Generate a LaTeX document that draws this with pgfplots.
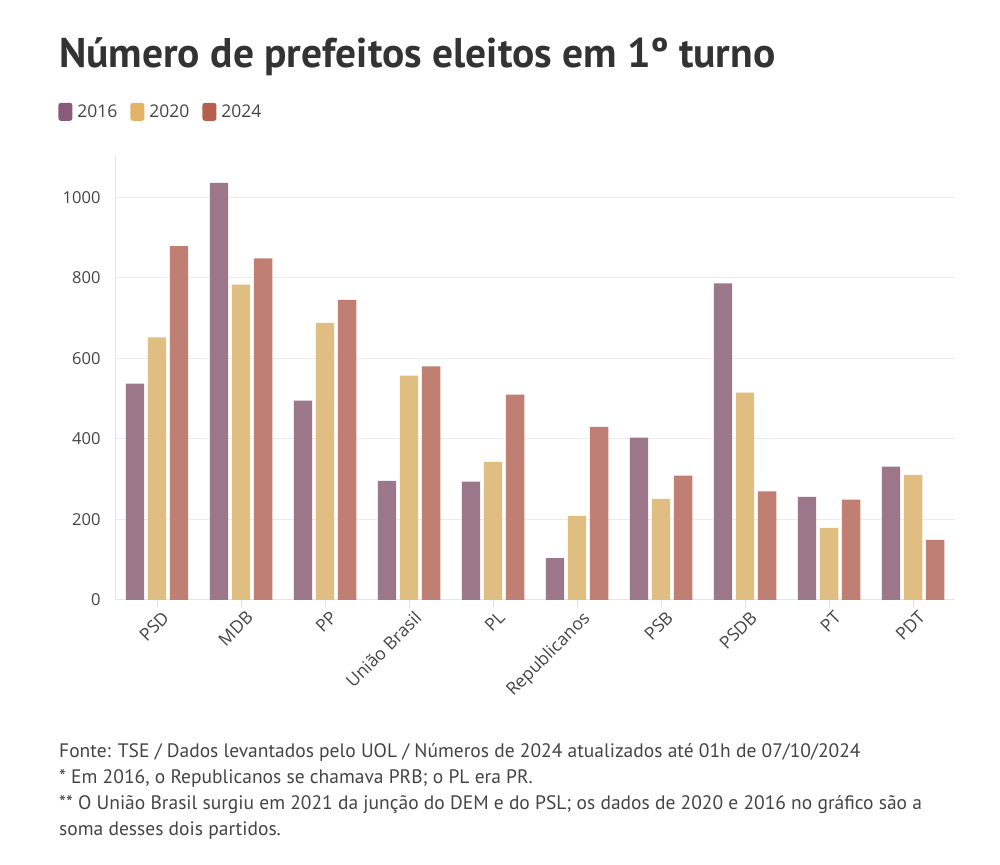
\documentclass[border=0pt]{standalone}
\usepackage{fontspec}
\setmainfont{Open Sans}
\newfontfamily\ptsans{PT Sans}
\usepackage{pgfplots}
\pgfplotsset{compat=1.18}
\definecolor{c16}{HTML}{9B7789}
\definecolor{c20}{HTML}{E0BD80}
\definecolor{c24}{HTML}{BF7F73}
\definecolor{l16}{HTML}{8A5A7A}
\definecolor{l20}{HTML}{E3B466}
\definecolor{l24}{HTML}{B5604F}
\definecolor{txt}{HTML}{333333}
\definecolor{tk}{HTML}{444444}
\begin{document}
\begin{tikzpicture}[x=1pt,y=1pt]
\useasboundingbox (0,0) rectangle (1000,864);
\node[anchor=base west, inner sep=0pt, text=txt, font=\ptsans\bfseries\fontsize{41.5}{44}\selectfont] at (59,864-68) {Número de prefeitos eleitos em 1º turno};
\begin{axis}[
  at={(115pt,264pt)}, anchor=south west, scale only axis,
  width=840pt, height=445pt,
  xmin=-0.5, xmax=9.5, ymin=0, ymax=1105,
  ytick={0,200,400,600,800,1000},
  xtick={0,1,2,3,4,5,6,7,8,9},
  xticklabels={PSD,MDB,PP,União Brasil,PL,Republicanos,PSB,PSDB,PT,PDT},
  axis x line*=bottom, axis y line*=left,
  axis line style={draw=black!10, line width=1pt},
  ymajorgrids, grid style={draw=black!8, line width=1pt},
  tick align=outside, major tick length=7pt,
  xtick style={draw=black!12, line width=1pt},
  ytick style={draw=none},
  ticklabel style={text=tk, font=\fontsize{16.5}{20}\selectfont},
  yticklabel style={xshift=-4pt},
  xticklabel style={rotate=45, anchor=north east, inner sep=2pt, font=\fontsize{17.5}{20}\selectfont, xshift=3pt, yshift=-3pt},
  scaled y ticks=false,
  /pgf/number format/assume math mode=true,
  /pgf/number format/1000 sep={},
  ybar, bar width=0.22,
  legend style={draw=none, fill=none, at={(-0.0676,1.097)}, anchor=west,
    legend columns=3, font=\fontsize{17.5}{20}\selectfont, text=tk,
    /tikz/every odd column/.append style={column sep=3pt},
    /tikz/every even column/.append style={column sep=11pt},
    legend cell align=left, inner sep=0pt},
  legend image code/.code={\fill[#1, draw=none, rounded corners=2.5pt] (0pt,-9pt) rectangle (14pt,9pt);},
]
\addlegendimage{fill=l16, draw=none}\addlegendentry{2016}
\addlegendimage{fill=l20, draw=none}\addlegendentry{2020}
\addlegendimage{fill=l24, draw=none}\addlegendentry{2024}
\addplot[fill=c16, draw=none, bar shift=-0.262, forget plot] coordinates {
(0,537) (1,1036) (2,495) (3,296) (4,294) (5,104) (6,403) (7,786) (8,256) (9,331)};
\addplot[fill=c20, draw=none, bar shift=0, forget plot] coordinates {
(0,652) (1,783) (2,688) (3,557) (4,343) (5,209) (6,251) (7,515) (8,179) (9,311)};
\addplot[fill=c24, draw=none, bar shift=0.262, forget plot] coordinates {
(0,879) (1,848) (2,745) (3,580) (4,510) (5,430) (6,309) (7,270) (8,249) (9,149)};
\end{axis}
\begin{scope}[every node/.style={anchor=base west, inner sep=0pt, text=tk, font=\ptsans\fontsize{19.5}{22}\selectfont}]
\node at (59,864-758) {Fonte: TSE / Dados levantados pelo UOL / Números de 2024 atualizados até 01h de 07/10/2024};
\node at (59,864-783) {* Em 2016, o Republicanos se chamava PRB; o PL era PR.};
\node at (59,864-809) {** O União Brasil surgiu em 2021 da junção do DEM e do PSL; os dados de 2020 e 2016 no gráfico são a};
\node at (59,864-835) {soma desses dois partidos.};
\end{scope}
\end{tikzpicture}
\end{document}
